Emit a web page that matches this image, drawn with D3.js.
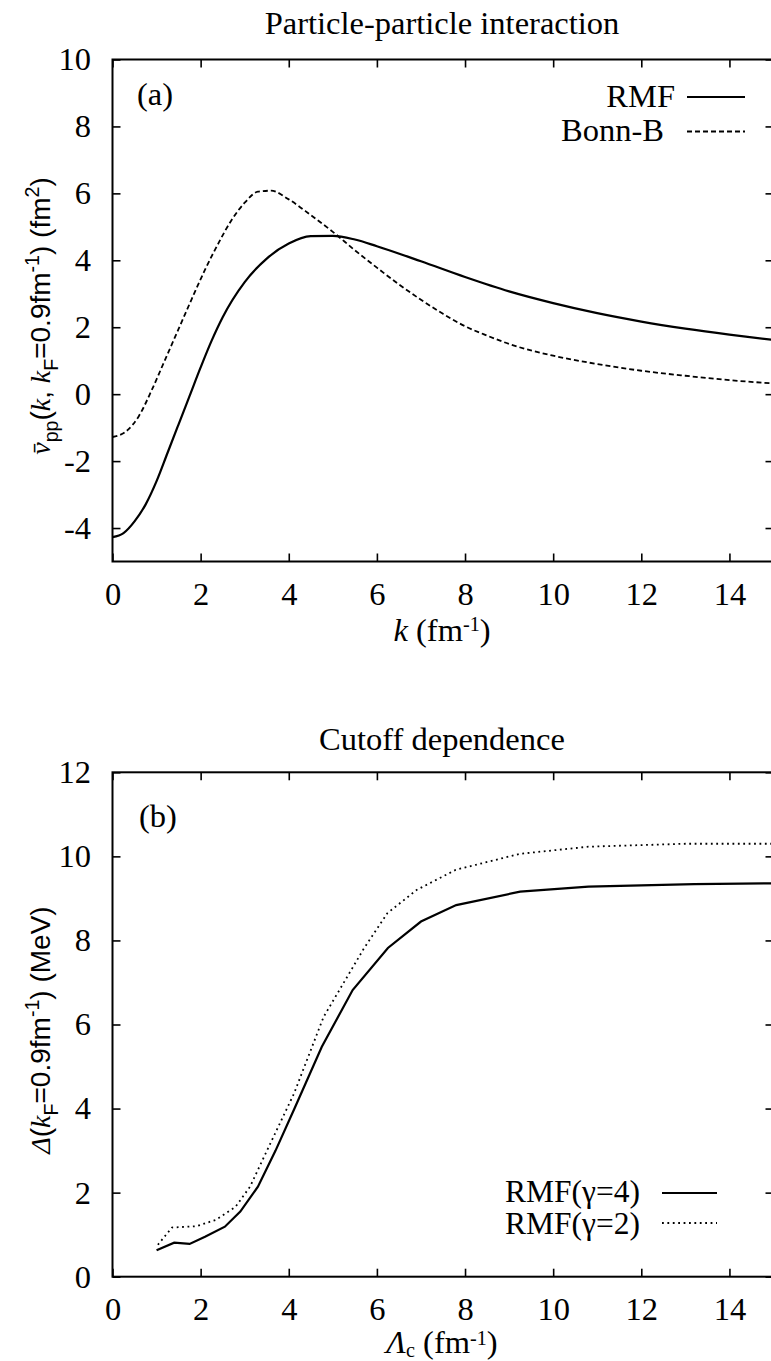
<!DOCTYPE html>
<html><head><meta charset="utf-8">
<script src="https://cdn.jsdelivr.net/npm/d3@7"></script>
<style>body{margin:0;background:#fff}svg{display:block}</style>
</head><body>
<svg id="c" width="771" height="1361"></svg>
<script>
// ---------- Panel (a): particle-particle interaction ----------
const kRMF = [0, 0.25, 0.5, 0.75, 1.0, 1.25, 1.5, 1.75, 2.0, 2.25, 2.5, 3.0, 3.5, 4.0, 4.5, 5.0, 5.5, 6, 7, 8, 9, 10, 11, 12, 13, 14, 15];
const vRMF = [-4.27, -4.15, -3.8, -3.3, -2.6, -1.75, -0.9, -0.05, 0.8, 1.6, 2.3, 3.35, 4.05, 4.5, 4.72, 4.73, 4.62, 4.42, 3.97, 3.5, 3.07, 2.72, 2.42, 2.17, 1.96, 1.78, 1.62];
const kBonn = [0, 0.3, 0.6, 0.9, 1.2, 1.5, 1.8, 2.1, 2.4, 2.7, 3.0, 3.3, 3.6, 4.0, 4.5, 5.0, 5.5, 6.0, 6.5, 7.0, 7.5, 8, 8.5, 9, 10, 11, 12, 13, 14, 15];
const vBonn = [-1.28, -1.12, -0.65, 0.15, 1.05, 1.95, 2.85, 3.72, 4.5, 5.2, 5.72, 6.05, 6.08, 5.82, 5.35, 4.85, 4.3, 3.78, 3.28, 2.82, 2.4, 2.03, 1.75, 1.5, 1.15, 0.9, 0.7, 0.55, 0.42, 0.32];
const aXTicks = [0, 2, 4, 6, 8, 10, 12, 14];
const aYTicks = [10, 8, 6, 4, 2, 0, -2, -4];
const aXDomain = [0, 15], aYDomain = [-5, 10];

// ---------- Panel (b): cutoff dependence ----------
const lamG4 = [1.0, 1.4, 1.75, 2.1, 2.55, 2.9, 3.3, 3.7, 4.15, 4.75, 5.45, 6.25, 7.0, 7.8, 9.25, 10.8, 13.2, 15];
const delG4 = [0.63, 0.81, 0.78, 0.95, 1.19, 1.55, 2.14, 3.0, 4.05, 5.47, 6.82, 7.82, 8.45, 8.84, 9.16, 9.28, 9.34, 9.36];
const lamG2 = [1.03, 1.35, 1.9, 2.34, 2.79, 3.12, 3.51, 4.12, 4.79, 5.7, 6.24, 6.9, 7.79, 9.24, 10.8, 13.0, 15];
const delG2 = [0.76, 1.17, 1.2, 1.35, 1.66, 2.14, 3.01, 4.36, 6.18, 7.8, 8.65, 9.2, 9.68, 10.06, 10.23, 10.3, 10.3];
const bXTicks = [0, 2, 4, 6, 8, 10, 12, 14];
const bYTicks = [12, 10, 8, 6, 4, 2, 0];
const bXDomain = [0, 15], bYDomain = [0, 12];

const SERIF = "'Liberation Serif','Times New Roman',serif";
const SANS = "'Liberation Sans',Arial,sans-serif";
const FS = 32.5;
const svg = d3.select("#c");

// rich text helper: parts = [text, family('s'|'n'), italic, shift('sub'|'sup'|null)]
function rich(textSel, parts, size, subShift = 0.28, supShift = 0.38, scScale = 0.7) {
  let off = 0;
  parts.forEach(([t, fam, ital, shift]) => {
    const sp = textSel.append("tspan").text(t)
      .attr("font-family", fam === "s" ? SERIF : SANS)
      .attr("font-style", ital ? "italic" : "normal");
    let target = 0, fs = size;
    if (shift === "sub") { target = subShift * size; fs = scScale * size; }
    if (shift === "sup") { target = -supShift * size; fs = scScale * size; }
    sp.attr("font-size", fs).attr("dy", target - off);
    off = target;
  });
}

function panel(opt) {
  const x = d3.scaleLinear().domain(opt.xDomain).range([112.5, 773.5]);
  const y = d3.scaleLinear().domain(opt.yDomain).range([opt.bottom, opt.top]);
  const g = svg.append("g");

  const axB = d3.axisBottom(x).tickValues(opt.xTicks).tickSize(-8).tickSizeOuter(0).tickPadding(20);
  const axT = d3.axisTop(x).tickValues(opt.xTicks).tickSize(-8).tickSizeOuter(0).tickFormat("");
  const axL = d3.axisLeft(y).tickValues(opt.yTicks).tickSize(-8).tickSizeOuter(0).tickPadding(21.5)
                .tickFormat(d => String(d).replace("\u2212", "-"));
  const axR = d3.axisRight(y).tickValues(opt.yTicks).tickSize(-8).tickSizeOuter(0).tickFormat("");

  [[axB, `translate(0,${opt.bottom})`], [axT, `translate(0,${opt.top})`],
   [axL, `translate(112.5,0)`], [axR, `translate(773.5,0)`]].forEach(([ax, tr]) => {
    const a = g.append("g").attr("transform", tr).call(ax);
    a.select(".domain").remove();
    a.selectAll("line").attr("stroke", "#000").attr("stroke-width", 1.6);
    a.selectAll("text").attr("font-family", SERIF).attr("font-size", FS).attr("fill", "#000");
  });

  g.append("rect").attr("x", x(opt.xDomain[0])).attr("y", y(opt.yDomain[1]))
    .attr("width", x(opt.xDomain[1]) - x(opt.xDomain[0]))
    .attr("height", y(opt.yDomain[0]) - y(opt.yDomain[1]))
    .attr("fill", "none").attr("stroke", "#000").attr("stroke-width", 2);

  opt.series.forEach(s => {
    const pts = s.xs.map((v, i) => [v, s.ys[i]]);
    const line = d3.line().x(d => x(d[0])).y(d => y(d[1])).curve(s.curve);
    g.append("path").attr("d", line(pts)).attr("fill", "none").attr("stroke", "#000")
      .attr("stroke-width", s.width).attr("stroke-dasharray", s.dash || null);
  });
  return { x, y, g };
}

function label(x, y, txt, anchor, size) {
  return svg.append("text").attr("x", x).attr("y", y).attr("text-anchor", anchor || "start")
    .attr("font-family", SERIF).attr("font-size", size || FS).text(txt);
}

// ---- Panel (a)
panel({
  xDomain: aXDomain, yDomain: aYDomain, xTicks: aXTicks, yTicks: aYTicks,
  top: 59.5, bottom: 561.5,
  series: [
    { xs: kRMF, ys: vRMF, curve: d3.curveMonotoneX, width: 2.2 },
    { xs: kBonn, ys: vBonn, curve: d3.curveMonotoneX, width: 1.8, dash: "5,3" }
  ]
});
label(442, 34, "Particle-particle interaction", "middle");
label(137, 105, "(a)");
label(675, 107, "RMF", "end");
label(664, 141, "Bonn-B", "end");
svg.append("line").attr("x1", 687).attr("x2", 745).attr("y1", 97).attr("y2", 97)
  .attr("stroke", "#000").attr("stroke-width", 2.2);
svg.append("line").attr("x1", 687).attr("x2", 745).attr("y1", 131.5).attr("y2", 131.5)
  .attr("stroke", "#000").attr("stroke-width", 1.8).attr("stroke-dasharray", "5,3");

rich(svg.append("text").attr("x", 442).attr("y", 641).attr("text-anchor", "middle"),
  [["k", "s", true], [" (fm", "s", false], ["-1", "s", false, "sup"], [")", "s", false]], FS, 0.28, 0.3, 0.62);
rich(svg.append("text").attr("transform", "translate(50,316) rotate(-90)").attr("text-anchor", "middle"),
  [["v\u0304", "s", true], ["pp", "n", false, "sub"], ["(", "n", false], ["k", "s", true],
   [", ", "n", false], ["k", "s", true], ["F", "n", false, "sub"], ["=0.9fm", "n", false],
   ["-1", "n", false, "sup"], [") (fm", "n", false], ["2", "n", false, "sup"], [")", "n", false]], 28);

// ---- Panel (b)
panel({
  xDomain: bXDomain, yDomain: bYDomain, xTicks: bXTicks, yTicks: bYTicks,
  top: 772.3, bottom: 1276.7,
  series: [
    { xs: lamG4, ys: delG4, curve: d3.curveLinear, width: 2.2 },
    { xs: lamG2, ys: delG2, curve: d3.curveLinear, width: 1.8, dash: "1.8,3.6" }
  ]
});
label(442, 750, "Cutoff dependence", "middle");
label(139, 827, "(b)");
label(640, 1202, "RMF(\u03b3=4)", "end", 31.5);
label(640, 1234, "RMF(\u03b3=2)", "end", 31.5);
svg.append("line").attr("x1", 662).attr("x2", 717).attr("y1", 1193).attr("y2", 1193)
  .attr("stroke", "#000").attr("stroke-width", 2.2);
svg.append("line").attr("x1", 662).attr("x2", 717).attr("y1", 1223).attr("y2", 1223)
  .attr("stroke", "#000").attr("stroke-width", 1.8).attr("stroke-dasharray", "1.8,3.6");

rich(svg.append("text").attr("x", 442).attr("y", 1353).attr("text-anchor", "middle"),
  [["\u039b", "s", true], ["c", "s", false, "sub"], [" (fm", "s", false], ["-1", "s", false, "sup"], [")", "s", false]], FS, 0.12, 0.25, 0.62);
rich(svg.append("text").attr("transform", "translate(50,1030) rotate(-90)").attr("text-anchor", "middle"),
  [["\u0394", "s", true], ["(", "n", false], ["k", "s", true], ["F", "n", false, "sub"],
   ["=0.9fm", "n", false], ["-1", "n", false, "sup"], [") (MeV)", "n", false]], 28);
</script>
</body></html>
